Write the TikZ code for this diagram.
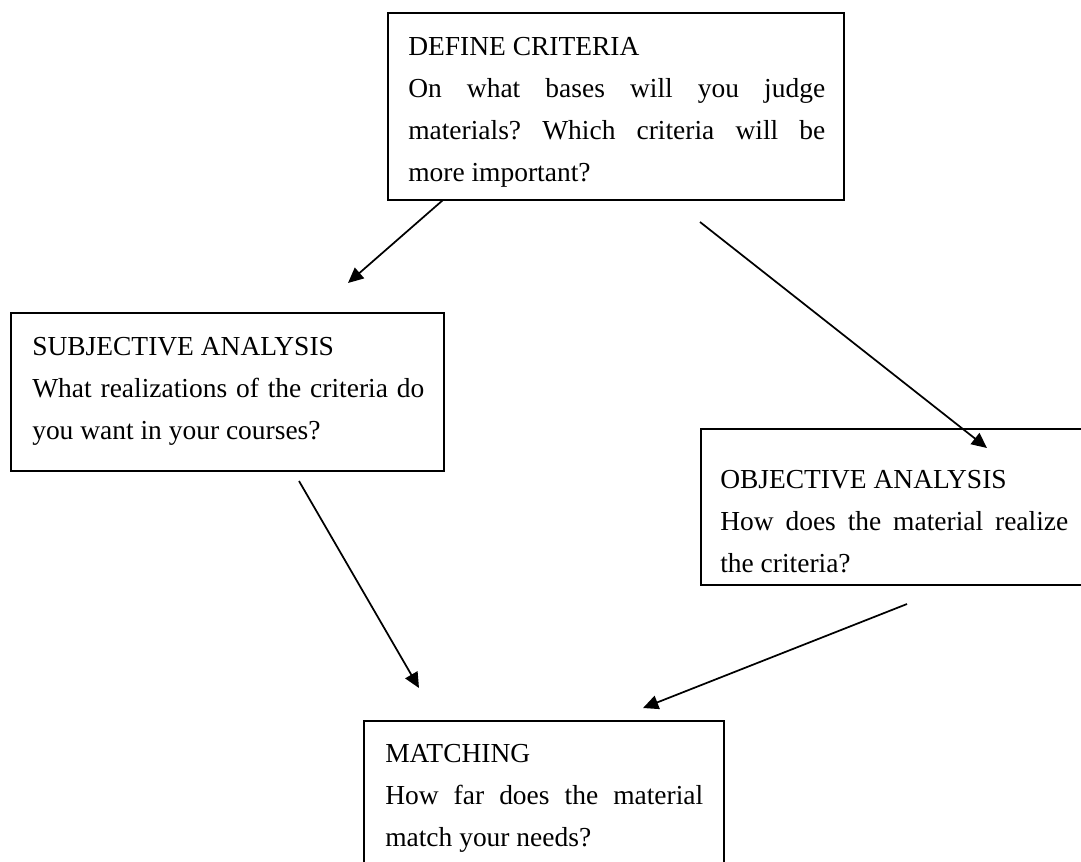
\documentclass[tikz,border=0pt]{standalone}
\usepackage{fontspec}
\setmainfont{Liberation Serif}
\usetikzlibrary{arrows.meta}
\frenchspacing
\newcommand\boxfont{\fontsize{20.6pt}{31.5pt}\selectfont}
\tikzset{
  boxnode/.style={draw, line width=1.4pt, rectangle, inner sep=0pt},
  txtnode/.style={anchor=base west, inner sep=0pt},
  conn/.style={line width=1.3pt, -{Triangle[length=11.5pt,width=10.5pt]}},
}
\begin{document}
\begin{tikzpicture}[x=0.75pt,y=-0.75pt]
\useasboundingbox (0,0) rectangle (1081,861);
\clip (0,0) rectangle (1081,861);
% boxes
\node[boxnode, minimum width=342pt, minimum height=140.25pt] (dc) at (616,106.5) {};
\node[boxnode, minimum width=324.75pt, minimum height=118.5pt] (sa) at (227.5,392) {};
\node[boxnode, minimum width=291.75pt, minimum height=117pt] (oa) at (895.5,507) {};
\node[boxnode, minimum width=270pt, minimum height=119.25pt] (ma) at (544,800.5) {};
% texts
\node[txtnode] (dct) at (408,55) {\parbox[t]{312.75pt}{\boxfont DEFINE CRITERIA\\
\makebox[\linewidth][s]{On what bases will you judge}\\
\makebox[\linewidth][s]{materials? Which criteria will be}\\
more important?}};
\node[txtnode] (sat) at (32,355) {\parbox[t]{294pt}{\boxfont SUBJECTIVE ANALYSIS\\
\makebox[\linewidth][s]{What realizations of the criteria do}\\
you want in your courses?}};
\node[txtnode] (oat) at (720,488) {\parbox[t]{261pt}{\boxfont OBJECTIVE ANALYSIS\\
\makebox[\linewidth][s]{How does the material realize}\\
the criteria?}};
\node[txtnode] (mat) at (385,762) {\parbox[t]{238.5pt}{\boxfont MATCHING\\
\makebox[\linewidth][s]{How far does the material}\\
match your needs?}};
% connector ends
\coordinate (a1s) at (443,200);
\coordinate (a1e) at (348,283);
\coordinate (a2s) at (700,222);
\coordinate (a2e) at (987,448);
\coordinate (a3s) at (299,481);
\coordinate (a3e) at (419,688);
\coordinate (a4s) at (907,604);
\coordinate (a4e) at (643,708);
\draw[conn] (a1s) -- (a1e);
\draw[conn] (a2s) -- (a2e);
\draw[conn] (a3s) -- (a3e);
\draw[conn] (a4s) -- (a4e);
\end{tikzpicture}
\end{document}
